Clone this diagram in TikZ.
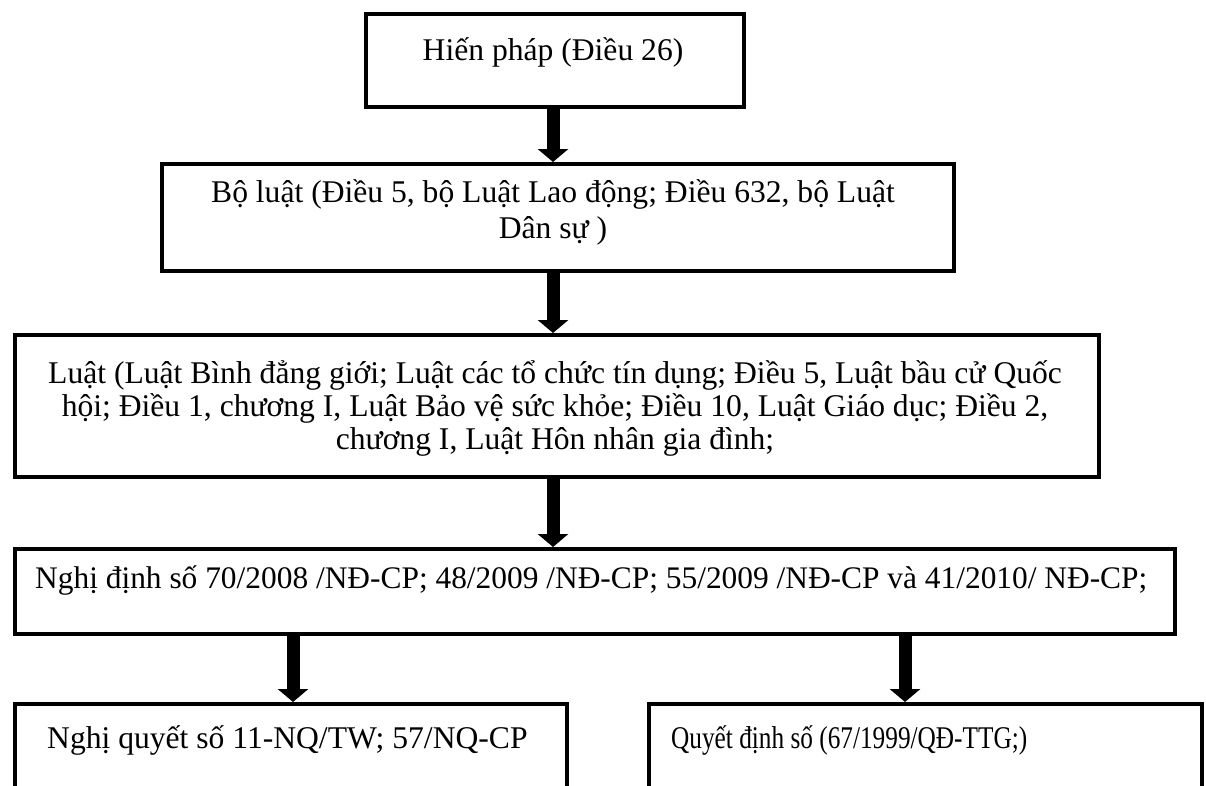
\documentclass[tikz,border=0pt]{standalone}
\usepackage{fontspec}
\setmainfont{Liberation Serif}
\usepackage{graphicx}
\usetikzlibrary{arrows.meta}
\begin{document}
\begin{tikzpicture}[x=1pt,y=-1pt,
  box/.style={draw=black, line width=4pt, rectangle, inner sep=0pt, anchor=north west},
  txt/.style={font=\fontsize{31.6}{36}\selectfont, inner sep=0pt, anchor=base},
  txtl/.style={txt, anchor=base west},
  flow/.style={line width=13pt, -{Triangle[width=30pt,length=13pt]}}]
\useasboundingbox (0,0) rectangle (1206,785);
\clip (0,0) rectangle (1206,785);
\fill[white] (0,0) rectangle (1206,785);
% boxes
\node[box, minimum width=378pt, minimum height=93pt] (b1) at (364,12) {};
\node[box, minimum width=792pt, minimum height=107pt] (b2) at (160,162) {};
\node[box, minimum width=1084pt, minimum height=142pt] (b3) at (13,333) {};
\node[box, minimum width=1160pt, minimum height=85pt] (b4) at (13,547) {};
\node[box, minimum width=552pt, minimum height=130pt] (b5) at (13,702) {};
\node[box, minimum width=553pt, minimum height=130pt] (b6) at (647,702) {};
% texts
\node[txt] (t1) at (553,60) {Hiến pháp (Điều 26)};
\node[txt] (t2a) at (553,202) {Bộ luật (Điều 5, bộ Luật Lao động; Điều 632, bộ Luật};
\node[txt] (t2b) at (553,238) {Dân sự )};
\node[txt] (t3a) at (555,383) {Luật (Luật Bình đẳng giới; Luật các tổ chức tín dụng; Điều 5, Luật bầu cử Quốc};
\node[txt] (t3b) at (555,416) {hội; Điều 1, chương I, Luật Bảo vệ sức khỏe; Điều 10, Luật Giáo dục; Điều 2,};
\node[txt] (t3c) at (555,449) {chương I, Luật Hôn nhân gia đình;};
\node[txtl, font=\fontsize{31.4}{36}\selectfont] (t4) at (35,588) {Nghị định số 70/2008 /NĐ-CP; 48/2009 /NĐ-CP; 55/2009 /NĐ-CP và 41/2010/ NĐ-CP;};
\node[txtl] (t5) at (47,748) {Nghị quyết số 11-NQ/TW; 57/NQ-CP};
\node[txtl] (t6) at (671,748) {\scalebox{0.8}[1]{Quyết định số (67/1999/QĐ-TTG;)}};
% arrows
\coordinate (ax) at (553,0);
\coordinate (al) at (293,0);
\coordinate (ar) at (905,0);
\draw[flow] (ax |- b1.south) -- (ax |- b2.north);
\draw[flow] (ax |- b2.south) -- (ax |- b3.north);
\draw[flow] (ax |- b3.south) -- (ax |- b4.north);
\draw[flow] (al |- b4.south) -- (al |- b5.north);
\draw[flow] (ar |- b4.south) -- (ar |- b6.north);
\end{tikzpicture}
\end{document}
